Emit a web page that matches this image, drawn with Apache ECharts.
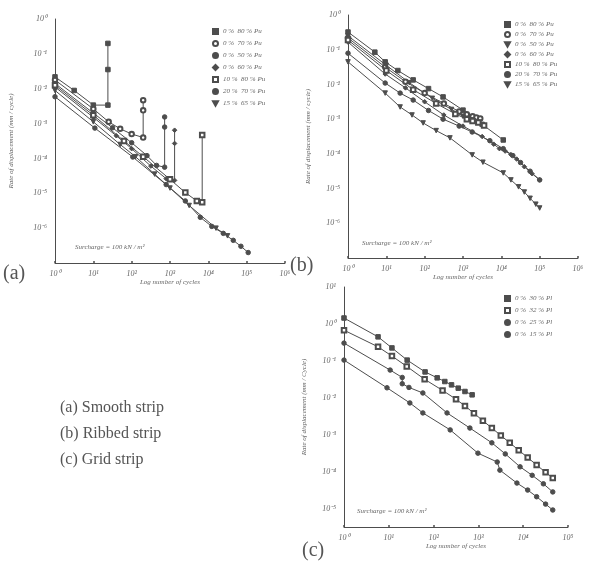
<!DOCTYPE html>
<html>
<head>
<meta charset="utf-8">
<script src="https://cdn.jsdelivr.net/npm/echarts@6/dist/echarts.min.js"></script>
<style>
  html, body { margin: 0; padding: 0; background: #fff; }
  #chart { width: 594px; height: 562px; }
</style>
</head>
<body>
<div id="chart"></div>
<script>
// all values are log10 exponents: [log N, log rate]

// (a) smooth strip
var aNames = ["0 %  80 % Pu", "0 %  70 % Pu", "0 %  50 % Pu", "0 %  60 % Pu", "10 %  80 % Pu", "20 %  70 % Pu", "15 %  65 % Pu"];
var a1 = [[0, -1.66], [0.5, -2.05], [1, -2.47], [1.38, -2.47], [1.38, -1.45], [1.38, -0.7]];
var a2 = [[0, -1.75], [1, -2.58], [1.4, -2.95], [1.7, -3.15], [2, -3.3], [2.3, -3.4], [2.3, -2.62], [2.3, -2.33]];
var a3 = [[0, -1.85], [1, -2.7], [1.5, -3.12], [2, -3.55], [2.4, -3.92], [2.65, -4.2], [2.86, -4.25], [2.86, -3.1], [2.86, -2.81]];
var a4 = [[0, -1.95], [1, -2.82], [1.6, -3.35], [2, -3.72], [2.5, -4.22], [2.9, -4.58], [3.12, -4.63], [3.12, -3.57], [3.12, -3.19]];
var a5 = [[0, -1.9], [1, -2.76], [1.8, -3.5], [2.3, -3.95], [3, -4.6], [3.4, -4.98], [3.7, -5.22], [3.84, -5.26], [3.84, -3.33]];
var a6 = [[0, -2.23], [1.04, -3.13], [2.03, -3.96], [2.9, -4.75], [3.4, -5.22], [3.79, -5.69], [4.09, -5.95], [4.39, -6.15], [4.65, -6.35], [4.85, -6.52], [5.04, -6.7]];
var a7 = [[0, -2.05], [1, -2.95], [1.7, -3.6], [2.1, -3.95], [2.6, -4.45], [3, -4.85], [3.5, -5.35], [4.2, -6.0], [4.5, -6.22]];

// (b) ribbed strip
var bNames = aNames;
var b1 = [[0, -0.49], [0.7, -1.07], [0.97, -1.35], [1.3, -1.6], [1.7, -1.87], [2.1, -2.12], [2.48, -2.36], [3, -2.74], [3.5, -3.15], [4.05, -3.6]];
var b2 = [[0, -0.66], [0.97, -1.5], [1.5, -1.92], [2, -2.25], [2.5, -2.55], [2.9, -2.78], [3.1, -2.86], [3.25, -2.92], [3.35, -2.95], [3.45, -2.98]];
var b3 = [[0, -0.6], [1, -1.45], [1.6, -1.95], [2.2, -2.4], [2.7, -2.72], [3, -2.92], [3.2, -3.02], [3.35, -3.1], [3.5, -3.17]];
var b4 = [[0, -0.78], [0.97, -1.7], [1.5, -2.1], [2, -2.5], [2.5, -2.88], [3, -3.2], [3.5, -3.5], [3.8, -3.72], [3.95, -3.85], [4.1, -3.92], [4.25, -4.02], [4.4, -4.15], [4.6, -4.37], [4.8, -4.57], [5, -4.75]];
var b5 = [[0, -0.72], [1, -1.6], [1.7, -2.15], [2.3, -2.55], [2.8, -2.85], [3.1, -3.0], [3.25, -3.05], [3.4, -3.1], [3.55, -3.18]];
var b6 = [[0, -1.1], [0.97, -1.96], [1.36, -2.25], [1.7, -2.45], [2.1, -2.75], [2.48, -3.0], [2.9, -3.2], [3.24, -3.37], [3.7, -3.62], [4.05, -3.85], [4.3, -4.05], [4.5, -4.25], [4.75, -4.5], [5, -4.75]];
var b7 = [[0, -1.35], [0.97, -2.25], [1.36, -2.65], [1.67, -2.88], [1.96, -3.11], [2.3, -3.33], [2.66, -3.54], [3.24, -4.03], [3.52, -4.24], [4.05, -4.55], [4.25, -4.75], [4.45, -4.95], [4.6, -5.1], [4.75, -5.28], [4.9, -5.45], [5, -5.56]];

// (c) grid strip
var cNames = ["0 %  30 % Pl", "0 %  32 % Pl", "0 %  25 % Pl", "0 %  15 % Pl"];
var c1 = [[0, 0.16], [0.76, -0.35], [1.07, -0.65], [1.41, -0.98], [1.81, -1.3], [2.08, -1.46], [2.25, -1.56], [2.4, -1.65], [2.55, -1.74], [2.7, -1.83], [2.86, -1.92]];
var c2 = [[0, -0.17], [0.76, -0.62], [1.07, -0.87], [1.4, -1.15], [1.8, -1.5], [2.2, -1.8], [2.5, -2.04], [2.7, -2.22], [2.9, -2.42], [3.1, -2.62], [3.3, -2.82], [3.5, -3.02], [3.7, -3.22], [3.9, -3.42], [4.1, -3.62], [4.3, -3.82], [4.5, -4.02], [4.66, -4.17]];
var c3 = [[0, -0.52], [1.03, -1.25], [1.3, -1.45], [1.3, -1.62], [1.45, -1.72], [1.76, -1.87], [2.3, -2.41], [2.81, -2.82], [3.3, -3.22], [3.6, -3.52], [3.93, -3.87], [4.2, -4.1], [4.45, -4.33], [4.66, -4.55]];
var c4 = [[0, -0.98], [0.96, -1.73], [1.47, -2.14], [1.76, -2.41], [2.37, -2.87], [2.99, -3.5], [3.42, -3.74], [3.48, -3.96], [3.86, -4.31], [4.1, -4.5], [4.3, -4.68], [4.5, -4.88], [4.66, -5.04]];

var ink = "#4d4d4d";
var textInk = "#666";
var serif = "Liberation Serif";
var down = "path://M0,0L10,0L5,9Z";

var SUP = { "0": "\u2070", "1": "\u00b9", "2": "\u00b2", "3": "\u00b3", "4": "\u2074", "5": "\u2075", "6": "\u2076", "7": "\u2077", "8": "\u2078", "9": "\u2079", "-": "\u207b" };
function pow10(v) {
  return "10" + String(v).split("").map(function (c) { return SUP[c] || c; }).join("");
}

var myChart = echarts.init(document.getElementById("chart"), null, { renderer: "canvas" });

function xAx(gi, max) {
  return {
    type: "value", gridIndex: gi, min: 0, max: max, interval: 1,
    name: "Log number of cycles", nameLocation: "middle", nameGap: 16,
    nameTextStyle: { fontFamily: serif, fontStyle: "italic", fontSize: 7, color: textInk },
    axisLine: { onZero: false, lineStyle: { color: ink, width: 1 } },
    axisTick: { show: true, inside: true, length: 2, lineStyle: { color: ink, width: 1.5 } },
    splitLine: { show: false },
    axisLabel: { margin: 7, fontFamily: serif, fontStyle: "italic", fontSize: 8, color: textInk, formatter: pow10 }
  };
}

function yAx(gi, min, max, vals, cyc, gap) {
  return {
    type: "value", gridIndex: gi, min: min, max: max,
    name: "Rate of displacement (mm / " + cyc + ")", nameLocation: "middle", nameRotate: 90, nameGap: gap,
    nameTextStyle: { fontFamily: serif, fontStyle: "italic", fontSize: 7, color: textInk },
    axisLine: { show: true, onZero: false, lineStyle: { color: ink, width: 1 } },
    axisTick: { show: false, customValues: vals },
    splitLine: { show: false },
    axisLabel: { customValues: vals, margin: 8, fontFamily: serif, fontStyle: "italic", fontSize: 8, color: textInk, formatter: pow10 }
  };
}

function ser(name, data, gi, symbol, rot) {
  return {
    name: name, type: "line", xAxisIndex: gi, yAxisIndex: gi,
    data: data, symbol: symbol, symbolSize: 4.5, symbolRotate: rot || 0,
    showAllSymbol: true, animation: false,
    lineStyle: { color: ink, width: 1 },
    itemStyle: { color: ink, borderColor: ink, borderWidth: 1 }
  };
}

var aSym = ["rect", "emptyCircle", "circle", "diamond", "emptyRect", "circle", "triangle"];
var bSym = ["rect", "emptyCircle", "triangle", "diamond", "emptyRect", "circle", "triangle"];
var cSym = ["rect", "emptyRect", "circle", "circle"];
var aRot = [0, 0, 0, 0, 0, 0, 180];
var bRot = [0, 0, 180, 0, 0, 0, 180];
function icon(s, r) { return r ? down : s; }

var aData = [a1, a2, a3, a4, a5, a6, a7];
var bData = [b1, b2, b3, b4, b5, b6, b7];
var cData = [c1, c2, c3, c4];

var series = [];
aData.forEach(function (d, i) { series.push(ser(aNames[i], d, 0, aSym[i], aRot[i])); });
bData.forEach(function (d, i) { series.push(ser(bNames[i], d, 1, bSym[i], bRot[i])); });
cData.forEach(function (d, i) { series.push(ser(cNames[i], d, 2, cSym[i], 0)); });

function legendOf(names, syms, rots, left, top, gap) {
  return {
    orient: "vertical", left: left, top: top, itemWidth: 5, itemHeight: 5, itemGap: gap,
    padding: 0, selectedMode: false,
    textStyle: { fontFamily: serif, fontStyle: "italic", fontSize: 7, color: textInk },
    data: names.map(function (n, i) { return { name: n, icon: icon(syms[i], rots[i]) }; })
  };
}

var decA = [-6, -5, -4, -3, -2, -1, 0];
var decC = [-5, -4, -3, -2, -1, 0, 1];

var option = {
  backgroundColor: "#fff",
  animation: false,
  grid: [
    { left: 55, top: 19, width: 230, height: 244 },
    { left: 348, top: 15, width: 230, height: 243 },
    { left: 344, top: 287, width: 224, height: 240 }
  ],
  xAxis: [xAx(0, 6), xAx(1, 6), xAx(2, 5)],
  yAxis: [yAx(0, -7, 0, decA, "cycle", 40), yAx(1, -7, 0, decA, "cycle", 36), yAx(2, -5.5, 1, decC, "Cycle", 36)],
  legend: [
    legendOf(aNames, aSym, aRot, 212, 28, 5),
    legendOf(bNames, bSym, bRot, 504, 21, 3),
    legendOf(cNames, cSym, [0, 0, 0, 0], 504, 295, 5)
  ],
  graphic: [
    { type: "text", left: 3, top: 264, style: { text: "(a)", font: "20px " + serif, fill: "#555" } },
    { type: "text", left: 290, top: 256, style: { text: "(b)", font: "20px " + serif, fill: "#555" } },
    { type: "text", left: 302, top: 541, style: { text: "(c)", font: "20px " + serif, fill: "#555" } },
    { type: "text", left: 60, top: 400, style: { text: "(a) Smooth strip", font: "16px " + serif, fill: "#555" } },
    { type: "text", left: 60, top: 426, style: { text: "(b) Ribbed strip", font: "16px " + serif, fill: "#555" } },
    { type: "text", left: 60, top: 452, style: { text: "(c) Grid strip", font: "16px " + serif, fill: "#555" } },
    { type: "text", left: 75, top: 244, style: { text: "Surcharge = 100 kN / m\u00b2", font: "italic 7px " + serif, fill: textInk } },
    { type: "text", left: 362, top: 240, style: { text: "Surcharge = 100 kN / m\u00b2", font: "italic 7px " + serif, fill: textInk } },
    { type: "text", left: 357, top: 508, style: { text: "Surcharge = 100 kN / m\u00b2", font: "italic 7px " + serif, fill: textInk } }
  ],
  series: series
};

myChart.setOption(option);
</script>
</body>
</html>
